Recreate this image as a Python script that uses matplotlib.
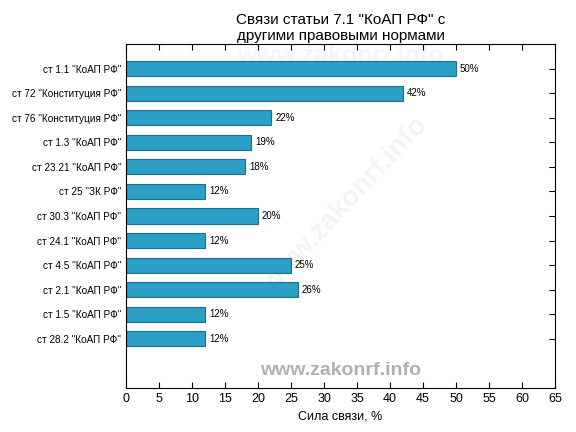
import matplotlib
matplotlib.use("Agg")
import matplotlib.pyplot as plt

plt.rcParams['font.family'] = ['Liberation Sans', 'DejaVu Sans']

# ==================== DATA ====================
labels = [
    'ст 1.1 "КоАП РФ"',
    'ст 72 "Конституция РФ"',
    'ст 76 "Конституция РФ"',
    'ст 1.3 "КоАП РФ"',
    'ст 23.21 "КоАП РФ"',
    'ст 25 "ЗК РФ"',
    'ст 30.3 "КоАП РФ"',
    'ст 24.1 "КоАП РФ"',
    'ст 4.5 "КоАП РФ"',
    'ст 2.1 "КоАП РФ"',
    'ст 1.5 "КоАП РФ"',
    'ст 28.2 "КоАП РФ"',
]
values = [50, 42, 22, 19, 18, 12, 20, 12, 25, 26, 12, 12]
x_ticks = list(range(0, 70, 5))

# ==================== PLOT ====================
fig = plt.figure(figsize=(5.76, 4.32), dpi=100)
ax = fig.add_axes([0.219, 0.102, 0.7445, 0.796])

pos = list(range(len(values)))
ax.barh(pos, values, height=0.62, color='#2b9fc6', edgecolor='#1a6f8c', linewidth=0.8, zorder=2)

for p, v in zip(pos, values):
    ax.text(v + 0.6, p, f"{v}%", va='center', ha='left', fontsize=7, zorder=3)

ax.set_ylim(13, -1)
ax.set_xlim(0, 65)
ax.set_yticks(pos)
ax.set_yticklabels(labels, fontsize=7.2)
ax.set_xticks(x_ticks)
ax.tick_params(axis='x', labelsize=9, direction='in', top=True, length=4)
ax.tick_params(axis='y', direction='in', right=True, length=4)
ax.set_xlabel("Сила связи, %", fontsize=9)
ax.set_title('Связи статьи 7.1 "КоАП РФ" с\nдругими правовыми нормами', fontsize=11, pad=3)

# watermarks
ax.text(0.5, 0.05, "www.zakonrf.info", transform=ax.transAxes, ha='center', va='center',
        fontsize=14, fontweight='bold', color='#b0b0b0')
ax.text(0.51, 0.53, "www.zakonrf.info", transform=ax.transAxes, ha='center', va='center',
        fontsize=20, fontweight='bold', color='#f4f4f4', rotation=47, zorder=0)
ax.text(0.5, 0.965, "www.zakonrf.info", transform=ax.transAxes, ha='center', va='center',
        fontsize=18, fontweight='bold', color='#f6f6f6', zorder=0)

plt.savefig("out.png", dpi=100)
plt.close()
